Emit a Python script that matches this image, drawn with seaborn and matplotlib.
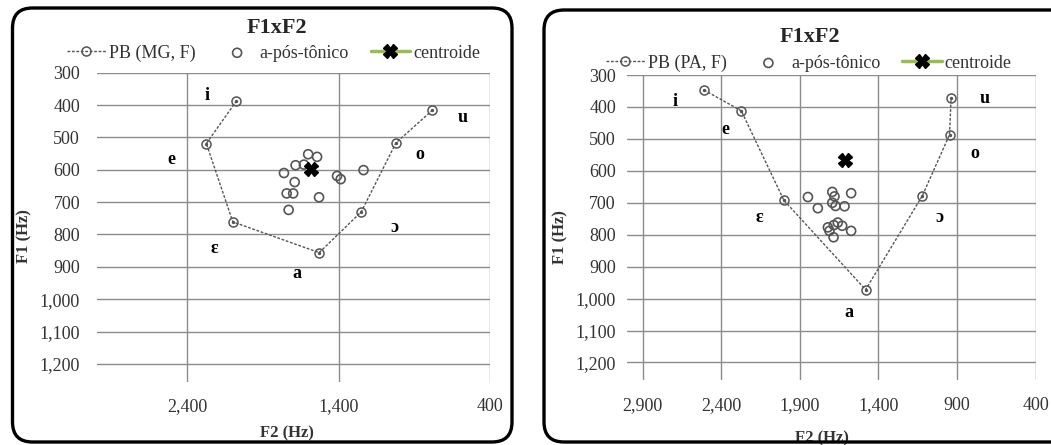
import matplotlib
matplotlib.use("Agg")
import matplotlib.pyplot as plt
import seaborn as sns
import pandas as pd
from matplotlib.patches import FancyBboxPatch
from matplotlib.ticker import FixedLocator, FuncFormatter

sns.set_theme(style="white")
plt.rcParams['font.family'] = ['Liberation Serif', 'DejaVu Serif']

vowels = ["i", "e", "ɛ", "a", "ɔ", "o", "u"]

# Belo Horizonte (MG) – female speakers
mg_f2 = [2076, 2275, 2100, 1529, 1251, 1022, 781]
mg_f1 = [387, 519, 761, 856, 730, 517, 416]
mg_post_f2 = [1602, 1543, 1685, 1630, 1762, 1691, 1744, 1701, 1530, 1731, 1411, 1387, 1236]
mg_post_f1 = [552, 560, 586, 584, 610, 638, 673, 673, 685, 724, 619, 629, 601]
mg_centroid_f2 = [1580]
mg_centroid_f1 = [598]
mg_label_f2 = [2273, 2509, 2225, 1678, 1033, 864, 580]
mg_label_f1 = [369, 568, 844, 919, 777, 552, 438]

# Pará (PA) – female speakers
pa_f2 = [2510, 2273, 2002, 1482, 1122, 948, 938]
pa_f1 = [347, 412, 692, 972, 679, 487, 372]
pa_post_f2 = [1849, 1786, 1694, 1680, 1694, 1673, 1616, 1574, 1722, 1659, 1631, 1712, 1686, 1574, 1684]
pa_post_f1 = [682, 717, 666, 680, 700, 710, 711, 670, 777, 762, 772, 788, 808, 788, 770]
pa_centroid_f2 = [1610]
pa_centroid_f1 = [565]
pa_label_f2 = [2697, 2375, 2161, 1591, 1012, 785, 726]
pa_label_f1 = [383, 471, 746, 1042, 746, 546, 375]

y_ticks = list(range(300, 1201, 100))
mg_x_ticks = [2400, 1400, 400]
pa_x_ticks = [2900, 2400, 1900, 1400, 900, 400]

GRID = "#8c8c8c"
LINE = "#555555"
TXT = "#333333"

fig = plt.figure(figsize=(10.51, 4.45), dpi=100)

# rounded chart-area borders (inches)
for (x0, y0, w, h) in [(0.125, 0.03, 4.995, 4.34), (5.44, 0.03, 5.3, 4.32)]:
    fig.patches.append(FancyBboxPatch((x0, y0), w, h,
                                      boxstyle="round,pad=0,rounding_size=0.2",
                                      transform=fig.dpi_scale_trans,
                                      fill=False, edgecolor="black", linewidth=2.4))


def panel(rect, f2, f1, post_f2, post_f1, cf2, cf1, lab_f2, lab_f1, series_name,
          xticks, title_xy, legend_xy, ylab_x, xlab_xy, ypad):
    ax = fig.add_axes(rect)
    poly = pd.DataFrame({"F2": f2, "F1": f1})
    post = pd.DataFrame({"F2": post_f2, "F1": post_f1})

    sns.lineplot(data=poly, x="F2", y="F1", sort=False, ax=ax, color=LINE,
                 linewidth=1.0, linestyle=(0, (2.0, 1.2)), marker="o", markersize=6.5,
                 markerfacecolor="none", markeredgecolor=LINE, markeredgewidth=1.1,
                 label=series_name, zorder=3)
    ax.scatter(f2, f1, s=2, color=LINE, zorder=4)
    sns.scatterplot(data=post, x="F2", y="F1", ax=ax, marker="o", s=42,
                    facecolor="none", edgecolor="#555555", linewidth=1.2,
                    label="a-pós-tônico", zorder=3)
    ax.plot(cf2, cf1, color="#9bbb59", linewidth=2.5, marker="X", markersize=9.5,
            markerfacecolor="black", markeredgecolor="black", label="centroide",
            zorder=5)

    for v, lx, ly in zip(vowels, lab_f2, lab_f1):
        ax.text(lx, ly, v, ha="center", va="center", fontsize=13,
                fontweight="bold", color="black")

    ax.set_xlim(3000, 400)
    ax.set_ylim(1255, 300)
    ax.xaxis.set_major_locator(FixedLocator(xticks))
    ax.yaxis.set_major_locator(FixedLocator(y_ticks))
    fmt = FuncFormatter(lambda v, p: f"{int(v):,}")
    ax.xaxis.set_major_formatter(fmt)
    ax.yaxis.set_major_formatter(fmt)
    ax.grid(True, color=GRID, linewidth=1.0)
    ax.set_axisbelow(True)
    for s in ax.spines.values():
        s.set_visible(False)
    ax.tick_params(axis="both", length=0, labelsize=13, colors=TXT)
    ax.tick_params(axis="x", pad=12)
    ax.tick_params(axis="y", pad=ypad)

    ax.set_xlabel("F2 (Hz)", fontsize=12, fontweight="bold", color=TXT,
                  va="center")
    ax.set_ylabel("F1 (Hz)", fontsize=12, fontweight="bold", color=TXT,
                  va="center", ha="center")
    ax.xaxis.set_label_coords(*xlab_xy)
    ax.yaxis.set_label_coords(ylab_x, 0.47)

    ax.text(title_xy[0], title_xy[1], "F1xF2", transform=ax.transAxes,
            ha="center", va="center", fontsize=16, fontweight="bold")

    ax.legend(loc="center", bbox_to_anchor=legend_xy, ncol=3, frameon=False,
              fontsize=13, handlelength=2.2, handletextpad=0.15,
              columnspacing=1.2, borderpad=0, labelcolor=TXT)
    return ax


panel([0.092, 0.1422, 0.3742, 0.6944], mg_f2, mg_f1, mg_post_f2, mg_post_f1,
      mg_centroid_f2, mg_centroid_f1, mg_label_f2, mg_label_f1, "PB (MG, F)",
      mg_x_ticks, (0.458, 1.146), (0.449, 1.064), -0.183, (0.485, -0.166), 12)

panel([0.5966, 0.146, 0.3888, 0.6854], pa_f2, pa_f1, pa_post_f2, pa_post_f1,
      pa_centroid_f2, pa_centroid_f1, pa_label_f2, pa_label_f1, "PB (PA, F)",
      pa_x_ticks, (0.448, 1.126), (0.444, 1.039), -0.162, (0.478, -0.19), 8)

fig.savefig("out.png", dpi=100)
